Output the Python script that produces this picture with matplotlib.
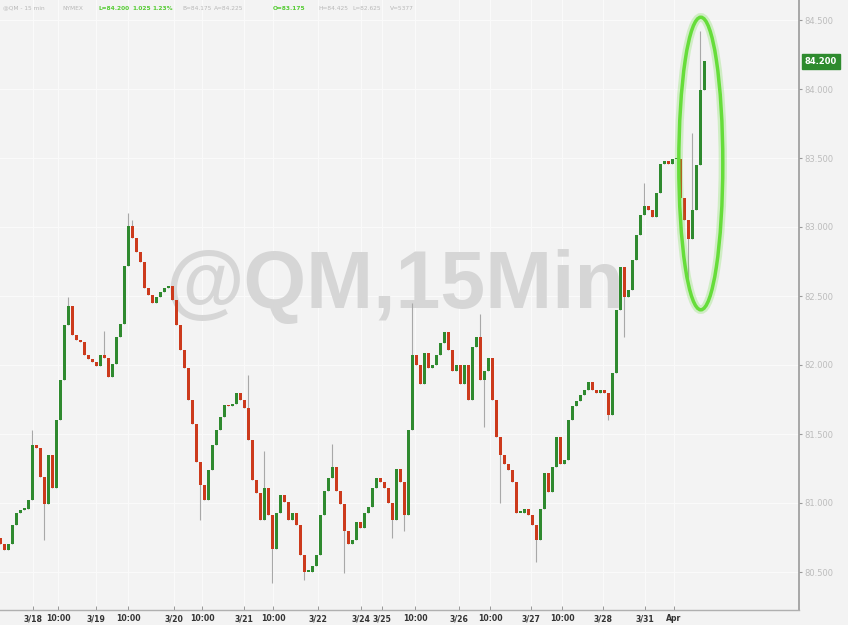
import matplotlib
matplotlib.use("Agg")
import matplotlib.pyplot as plt
from matplotlib.patches import Ellipse
import numpy as np

# 15-min closes (one per ~4px)
closes = [
    80.70, 80.66, 80.70, 80.84, 80.93, 80.95, 80.96, 81.02, 81.42, 81.40,
    81.19, 80.99, 81.35, 81.11, 81.60, 81.89, 82.29, 82.43, 82.22, 82.18,
    82.17, 82.07, 82.04, 82.02, 81.99, 82.07, 82.05, 81.91, 82.01, 82.20,
    82.30, 82.72, 83.01, 82.92, 82.82, 82.75, 82.56, 82.51, 82.45, 82.49,
    82.53, 82.56, 82.57, 82.47, 82.29, 82.11, 81.98, 81.75, 81.57, 81.30,
    81.13, 81.02, 81.24, 81.42, 81.53, 81.62, 81.71, 81.70, 81.72, 81.80,
    81.75, 81.69, 81.46, 81.17, 81.07, 80.88, 81.11, 80.91, 80.67, 80.93,
    81.06, 81.01, 80.88, 80.93, 80.84, 80.62, 80.50, 80.50, 80.54, 80.62,
    80.91, 81.09, 81.18, 81.26, 81.09, 80.99, 80.80, 80.70, 80.73, 80.86,
    80.82, 80.93, 80.97, 81.11, 81.18, 81.15, 81.11, 81.00, 80.88, 81.25,
    81.15, 80.91, 81.53, 82.07, 82.00, 81.86, 82.09, 81.98, 82.00, 82.07,
    82.16, 82.24, 82.11, 81.96, 82.00, 81.86, 82.00, 81.75, 82.13, 82.20,
    81.89, 81.96, 82.05, 81.75, 81.48, 81.35, 81.28, 81.24, 81.15, 80.93,
    80.93, 80.96, 80.91, 80.84, 80.73, 80.96, 81.22, 81.08, 81.26, 81.48,
    81.28, 81.31, 81.60, 81.70, 81.74, 81.78, 81.82, 81.88, 81.82, 81.80,
    81.82, 81.80, 81.64, 81.94, 82.40, 82.71, 82.49, 82.54, 82.76, 82.94,
    83.09, 83.15, 83.12, 83.07, 83.25, 83.46, 83.48, 83.46, 83.49, 83.49,
    83.21, 83.05, 82.91, 83.12, 83.45, 83.99, 84.20,
]
first_open = 80.75

# notable wick extremes (bar index -> price)
spike_highs = {8: 81.53, 17: 82.49, 26: 82.25, 32: 83.10, 33: 83.05, 62: 81.93,
               66: 81.38, 83: 81.43, 103: 82.45, 120: 82.37, 161: 83.32,
               173: 83.68, 175: 84.42}
spike_lows = {11: 80.73, 50: 80.88, 68: 80.42, 76: 80.44, 86: 80.49, 98: 80.75,
              101: 80.80, 121: 81.55, 125: 81.00, 134: 80.57, 152: 81.60,
              156: 82.20, 172: 82.63}

tick_pos = [8.25, 14.5, 24, 32, 43.5, 50.5, 61, 68.25, 79.5, 90.25, 95.5,
            103.75, 114.75, 122.5, 132.75, 140.5, 150.75, 161.25, 168.5]
tick_labels = ['3/18', '10:00', '3/19', '10:00', '3/20', '10:00', '3/21',
               '10:00', '3/22', '3/24', '3/25', '10:00', '3/26', '10:00',
               '3/27', '10:00', '3/28', '3/31', 'Apr']
y_ticks = [80.5, 81.0, 81.5, 82.0, 82.5, 83.0, 83.5, 84.0, 84.5]
last_price = 84.20

header = [('@QM - 15 min', '#b8b8b8'), ('NYMEX', '#b8b8b8'),
          ('L=84.200', '#55cc33'), ('1.025', '#55cc33'), ('1.23%', '#55cc33'),
          ('B=84.175', '#b8b8b8'), ('A=84.225', '#b8b8b8'),
          ('O=83.175', '#55cc33'), ('H=84.425', '#b8b8b8'),
          ('L=82.625', '#b8b8b8'), ('V=5377', '#b8b8b8')]
header_x = [0.003, 0.073, 0.116, 0.156, 0.180, 0.215, 0.252, 0.322, 0.375,
            0.416, 0.460]

closes = np.array(closes)
opens = np.concatenate(([first_open], closes[:-1]))
n = len(closes)
idx = np.arange(n)
highs = np.maximum(opens, closes)
lows = np.minimum(opens, closes)
for k, v in spike_highs.items():
    highs[k] = max(highs[k], v)
for k, v in spike_lows.items():
    lows[k] = min(lows[k], v)

bg = '#f3f3f3'
fig = plt.figure(figsize=(8.48, 6.25), dpi=100, facecolor=bg)
ax = fig.add_axes([0, 15 / 625, 799 / 848, 610 / 625])
ax.set_facecolor(bg)

# watermark
ax.text(0.494, 0.53, '@QM,15Min', transform=ax.transAxes, ha='center',
        va='center', fontsize=58, fontweight='bold', family='Liberation Sans',
        color='#d6d6d6', zorder=1)

up = closes >= opens
colors = np.where(up, '#2f8a2f', '#cc3a1c')
ax.vlines(idx, lows, highs, color='#a8a8a8', lw=0.8, zorder=2)
body = np.maximum(np.abs(closes - opens), 0.012)
ax.bar(idx, body, bottom=np.minimum(opens, closes), width=0.75,
       color=colors, edgecolor='none', zorder=3)

# highlight ellipse
for lw, a in [(6, 0.25), (2.5, 1.0)]:
    ax.add_patch(Ellipse((175.2, 83.46), 11, 2.12, fill=False,
                         edgecolor='#66dd3a', lw=lw, alpha=a, zorder=4))

ax.set_xlim(0, 799 / 4)
ax.set_ylim(84.5 - 590 / 138, 84.5 + 20 / 138)

ax.set_yticks(y_ticks)
ax.set_yticklabels([f'{v:.3f}' for v in y_ticks])
ax.yaxis.tick_right()
ax.tick_params(axis='y', direction='out', length=2, width=0.8, color='#999999',
               labelsize=6, labelcolor='#bcbcbc', pad=2)
ax.set_xticks(tick_pos)
ax.set_xticklabels(tick_labels)
ax.tick_params(axis='x', direction='in', length=3, width=0.6, color='#888888',
               labelsize=5.6, labelcolor='#333333', pad=3)
for lab in ax.get_xticklabels():
    lab.set_fontweight('bold')

ax.grid(True, color='#fafafa', lw=0.9, zorder=0)
ax.set_axisbelow(True)
for s in ['top', 'left']:
    ax.spines[s].set_visible(False)
ax.spines['right'].set_color('#9a9a9a')
ax.spines['right'].set_linewidth(1.2)
ax.spines['bottom'].set_color('#b0b0b0')
ax.spines['bottom'].set_linewidth(1.0)

# last price tag
ax.annotate(f'{last_price:.3f}', xy=(1.0, last_price),
            xycoords=('axes fraction', 'data'), xytext=(4, 0),
            textcoords='offset points', va='center', ha='left', fontsize=6,
            color='white', fontweight='bold',
            bbox=dict(boxstyle='square,pad=0.35', fc='#2e8b2e', ec='#2e8b2e'),
            annotation_clip=False)

for (txt, col), x in zip(header, header_x):
    fig.text(x, 0.987, txt, fontsize=4.2, color=col, va='center', ha='left',
             fontweight='bold' if col != '#b8b8b8' else 'normal')

fig.savefig('out.png', dpi=100, facecolor=bg)
